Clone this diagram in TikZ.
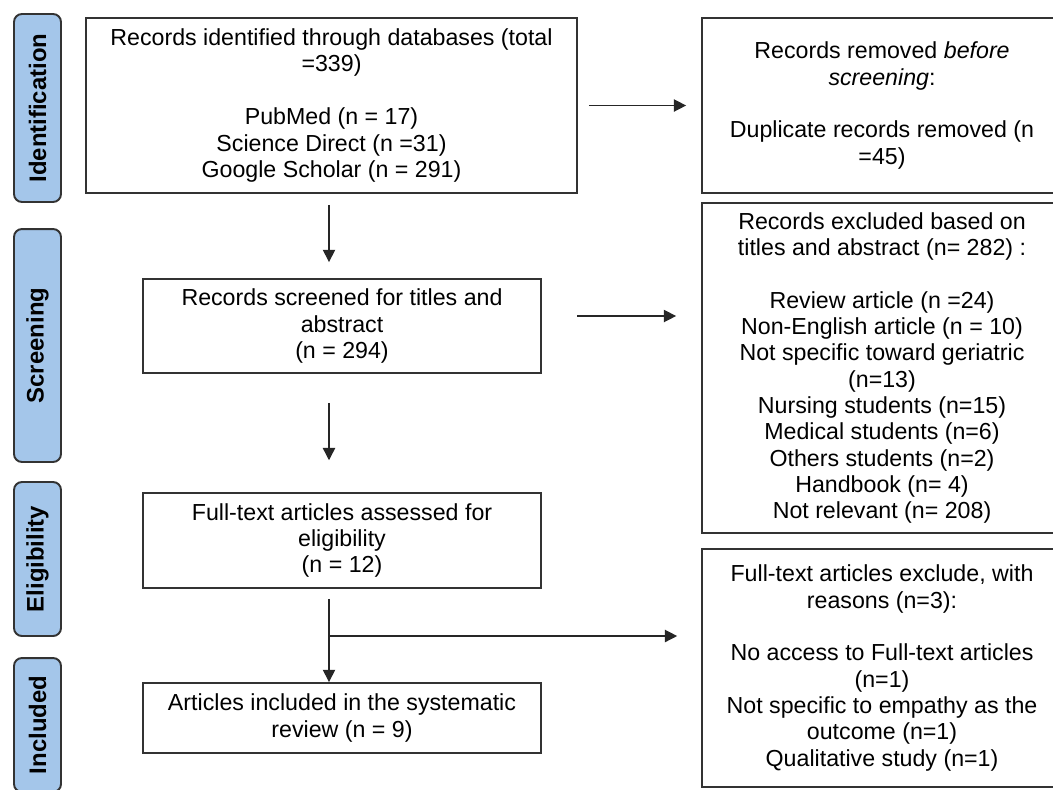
\documentclass[tikz,border=0pt]{standalone}
\usepackage{fontspec}
\setmainfont{Liberation Sans}
\usetikzlibrary{arrows.meta}

\definecolor{phaseblue}{HTML}{A4C6EA}
\tikzset{
	box/.style={draw=black!80, line width=1.1pt, align=center, inner sep=0pt, font=\fontsize{13.2}{15}\selectfont},
	phase/.style={draw=black!80, line width=1.1pt, fill=phaseblue, rounded corners=4.5pt, rotate=90, minimum height=0.94cm, inner sep=0pt, font=\fontsize{13.6}{15}\selectfont\bfseries},
	arr/.style={draw=black!85, line width=0.8pt, -{Triangle[length=7pt, width=7pt]}},
}

\begin{document}
\begin{tikzpicture}[x=0.02cm, y=-0.02cm]
	\useasboundingbox (0, 0) rectangle (1053, 789);
	\node [phase, minimum width=3.76cm] (identification) at (37.5, 108) {Identification};
	\node [phase, minimum width=4.66cm] (screening) at (37.5, 345.5) {Screening};
	\node [phase, minimum width=3.08cm] (eligibility) at (37.5, 559) {Eligibility};
	\node [phase, minimum width=2.68cm] (included) at (37.5, 725) {Included};
	\node [box, minimum width=9.82cm, minimum height=3.5cm] (identified) at (331.5, 105.5) {Records identified through databases (total\\=339)\\[15pt]PubMed (n = 17)\\Science Direct (n =31)\\Google Scholar (n = 291)};
	\node [box, minimum width=7.96cm, minimum height=1.88cm] (screened) at (342, 326) {Records screened for titles and\\abstract\\(n = 294)};
	\node [box, minimum width=7.96cm, minimum height=1.9cm] (assessed) at (342, 540.5) {Full-text articles assessed for\\eligibility\\(n = 12)};
	\node [box, minimum width=7.96cm, minimum height=1.4cm] (included box) at (342, 718) {Articles included in the systematic\\review (n = 9)};
	\node [box, minimum width=7.2cm, minimum height=3.5cm] (removed) at (882, 105.5) {Records removed \textit{before}\\\textit{screening}:\\[15pt]Duplicate records removed (n\\=45)};
	\node [box, minimum width=7.2cm, minimum height=6.6cm] (excluded) at (882, 368) {Records excluded based on\\titles and abstract (n= 282) :\\[15pt]Review article (n =24)\\Non-English article (n = 10)\\Not specific toward geriatric\\(n=13)\\Nursing students (n=15)\\Medical students (n=6)\\Others students (n=2)\\Handbook (n= 4)\\Not relevant (n= 208)};
	\node [box, minimum width=7.2cm, minimum height=4.76cm] (fulltext excluded) at (882, 668) {Full-text articles exclude, with\\reasons (n=3):\\[15pt]No access to Full-text articles\\(n=1)\\Not specific to empathy as the\\outcome (n=1)\\Qualitative study (n=1)};
	\coordinate (spine) at (329, 0);
	\coordinate (screen out) at (577, 316);
	\coordinate (full out) at (329, 636);
	\draw [arr, shorten <=6.2pt, shorten >=9.1pt] (identified.south -| spine) -- (screened.north -| spine);
	\draw [arr, shorten <=6.2pt, shorten >=8.5pt] (identified.east) -- (removed.west);
	\draw [arr, shorten <=16.4pt, shorten >=18.1pt] (screened.south -| spine) -- (assessed.north -| spine);
	\draw [arr, shorten >=14.2pt] (screen out) -- (screen out -| excluded.west);
	\draw [arr, shorten <=5.7pt] (assessed.south -| spine) -- (included box.north -| spine);
	\draw [arr, shorten >=13.6pt] (full out) -- (full out -| fulltext excluded.west);
\end{tikzpicture}
\end{document}
